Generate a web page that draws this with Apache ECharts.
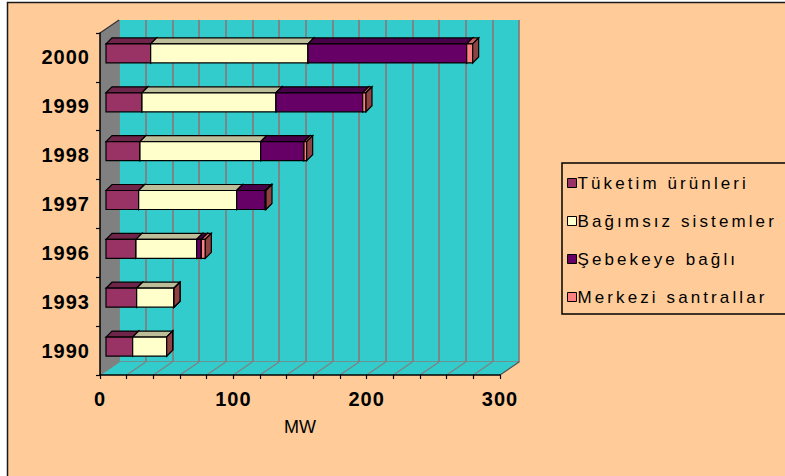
<!DOCTYPE html>
<html>
<head>
<meta charset="utf-8">
<script src="https://cdn.jsdelivr.net/npm/echarts@6/dist/echarts.min.js"></script>
<style>
  html, body { margin: 0; padding: 0; background: #ffffff; }
  #chart { width: 785px; height: 476px; }
</style>
</head>
<body>
<div id="chart"></div>
<script>
// Installed PV capacity by application (MW)
const years = ['1990', '1993', '1996', '1997', '1998', '1999', '2000'];
const tuketim  = [20, 23, 22.5, 24.5, 25.5, 27, 33.5];
const bagimsiz = [25.5, 28, 45.5, 73.5, 90.5, 100.5, 118];
const sebeke   = [0, 0, 3.5, 21.5, 32.5, 65, 119];
const merkezi  = [0, 0, 3, 0.5, 2, 2.5, 4.5];
const seriesNames = ['Tüketim ürünleri', 'Bağımsız sistemler', 'Şebekeye bağlı', 'Merkezi santrallar'];
const axisMin = 0, axisMax = 300, tickStep = 20;
const axisName = 'MW';

const seriesValues = [tuketim, bagimsiz, sebeke, merkezi];

// face colours: front, top (shaded) and end (darker)
const FACE = ['#993366', '#FFFFCC', '#660066', '#FF8080'];
const TOP  = ['#6E2549', '#BDBD99', '#480048', '#C46262'];
const SIDE = ['#4F1A35', '#8C8C70', '#330033', '#8E4242'];

// pseudo-3D geometry (pixels)
const WALL_D = [19, -13];   // depth of the back wall relative to the front axes
const BAR_OFF = [6, -4];    // bar front plane offset
const BAR_D = [6, -6];      // bar thickness
const BAR_H = 19;           // bar front face height

// stacked [start, end, categoryIndex] for one series
function stackedRanges(k) {
  return years.map((_, i) => {
    let start = 0;
    for (let j = 0; j < k; j++) start += seriesValues[j][i];
    return [start, start + seriesValues[k][i], i];
  });
}

function barRenderer(k) {
  return function (params, api) {
    const a = api.value(0), b = api.value(1), c = api.value(2);
    const p0 = api.coord([a, c]);
    const p1 = api.coord([b, c]);
    const x0 = p0[0] + BAR_OFF[0];
    const x1 = p1[0] + BAR_OFF[0];
    const yc = p0[1] + BAR_OFF[1];
    const top = yc - BAR_H / 2, bot = yc + BAR_H / 2;
    const dx = BAR_D[0], dy = BAR_D[1];
    const edge = { stroke: '#000000', lineWidth: 1.2, lineJoin: 'miter' };
    const children = [];
    if (x1 - x0 > 0.3) {
      children.push({
        type: 'polygon',
        shape: { points: [[x0, top], [x0 + dx, top + dy], [x1 + dx, top + dy], [x1, top]] },
        style: Object.assign({ fill: TOP[k] }, edge)
      });
      children.push({
        type: 'rect',
        shape: { x: x0, y: top, width: x1 - x0, height: BAR_H },
        style: Object.assign({ fill: FACE[k] }, edge)
      });
    }
    children.push({
      type: 'polygon',
      shape: { points: [[x1, top], [x1 + dx, top + dy], [x1 + dx, bot + dy], [x1, bot]] },
      style: Object.assign({ fill: SIDE[k] }, edge)
    });
    return { type: 'group', children: children };
  };
}

// side wall and floor of the 3D box
function wallRenderer(params, api) {
  const cs = params.coordSys;
  const L = cs.x, T = cs.y, R = cs.x + cs.width, B = cs.y + cs.height;
  const dx = WALL_D[0], dy = WALL_D[1];
  const children = [
    {
      type: 'polygon',
      shape: { points: [[L, T], [L + dx, T + dy], [L + dx, B + dy], [L, B]] },
      style: { fill: '#808080' }
    },
    {
      type: 'line',
      shape: { x1: L, y1: T, x2: L + dx, y2: T + dy },
      style: { stroke: '#333333', lineWidth: 1.2 }
    },
    {
      type: 'polygon',
      shape: { points: [[L, B], [R, B], [R + dx, B + dy], [L + dx, B + dy]] },
      style: { fill: '#33CCCC' }
    }
  ];
  for (let v = axisMin; v <= axisMax; v += tickStep) {
    const x = api.coord([v, 0])[0];
    children.push({
      type: 'line',
      shape: { x1: x, y1: B, x2: x + dx, y2: B + dy },
      style: { stroke: v === axisMax ? '#555555' : '#808080', lineWidth: 1.2 }
    });
  }
  return { type: 'group', children: children };
}

const FONT = 'Liberation Sans, Arial, sans-serif';

const series = [
  {
    type: 'custom',
    name: '',
    xAxisIndex: 0,
    yAxisIndex: 0,
    z: 1,
    silent: true,
    renderItem: wallRenderer,
    encode: { x: 0, y: 1 },
    data: [[axisMin, 0]]
  }
];
seriesNames.forEach((name, k) => {
  series.push({
    type: 'custom',
    name: name,
    xAxisIndex: 0,
    yAxisIndex: 0,
    z: 3,
    itemStyle: { color: FACE[k] },
    renderItem: barRenderer(k),
    encode: { x: [0, 1], y: 2 },
    data: stackedRanges(k)
  });
});

const chart = echarts.init(document.getElementById('chart'), null, { renderer: 'svg' });
chart.setOption({
  animation: false,
  backgroundColor: 'transparent',
  graphic: [{
    type: 'rect',
    z: -100,
    silent: true,
    shape: { x: 7.5, y: 2.5, width: 800, height: 500 },
    style: { fill: '#FFCC99', stroke: '#1a1a1a', lineWidth: 1.5 }
  }],
  grid: [
    // front plane (axes)
    { left: 100, top: 33, width: 400, height: 342, show: false },
    // back wall
    {
      left: 100 + WALL_D[0], top: 33 + WALL_D[1], width: 400, height: 342,
      show: true, backgroundColor: '#33CCCC', borderWidth: 0
    }
  ],
  xAxis: [
    {
      gridIndex: 0, type: 'value', min: axisMin, max: axisMax, interval: tickStep, z: 10,
      name: axisName, nameLocation: 'middle', nameGap: 43,
      nameTextStyle: { fontFamily: FONT, fontSize: 18, color: '#000' },
      axisLine: { show: true, lineStyle: { color: '#000', width: 1.5 } },
      axisTick: { show: true, length: 4, lineStyle: { color: '#000', width: 1.2 } },
      splitLine: { show: false },
      axisLabel: {
        margin: 14, fontFamily: FONT, fontWeight: 'bold', fontSize: 20, color: '#000',
        formatter: v => (v % 100 === 0 ? String(v) : '')
      }
    },
    {
      gridIndex: 1, type: 'value', min: axisMin, max: axisMax, interval: tickStep,
      axisLine: { show: true, lineStyle: { color: '#808080', width: 1.5 } },
      axisTick: { show: false },
      axisLabel: { show: false },
      splitLine: { show: true, lineStyle: { color: '#808080', width: 1.8 } }
    }
  ],
  yAxis: [
    {
      gridIndex: 0, type: 'category', data: years, z: 10,
      axisLine: { show: true, lineStyle: { color: '#000', width: 1.5 } },
      axisTick: { show: true, length: 4, lineStyle: { color: '#000', width: 1.2 } },
      splitLine: { show: false },
      axisLabel: { margin: 10, fontFamily: FONT, fontWeight: 'bold', fontSize: 20, color: '#000' }
    },
    {
      gridIndex: 1, type: 'category', data: years,
      axisLine: { show: false }, axisTick: { show: false },
      axisLabel: { show: false }, splitLine: { show: false }
    }
  ],
  legend: {
    data: seriesNames,
    orient: 'vertical',
    left: 562,
    top: 163,
    padding: [11, 100, 8, 5],
    itemGap: 20,
    itemWidth: 9,
    itemHeight: 9,
    icon: 'rect',
    borderColor: '#000',
    borderWidth: 1.5,
    backgroundColor: '#FFCC99',
    itemStyle: { borderColor: '#000', borderWidth: 1 },
    textStyle: { fontFamily: FONT, fontSize: 17, lineHeight: 18, color: '#000', padding: [0, 0, 0, -4] }
  },
  series: series
});

// wide tracking of the legend and numeric labels
function applySpacing() {
  document.querySelectorAll('#chart text').forEach(t => {
    const s = t.textContent;
    if (seriesNames.includes(s)) t.style.letterSpacing = '3.1px';
    else if (/^\d+$/.test(s)) t.style.letterSpacing = '1px';
  });
}
chart.on('finished', applySpacing);
applySpacing();
</script>
</body>
</html>
